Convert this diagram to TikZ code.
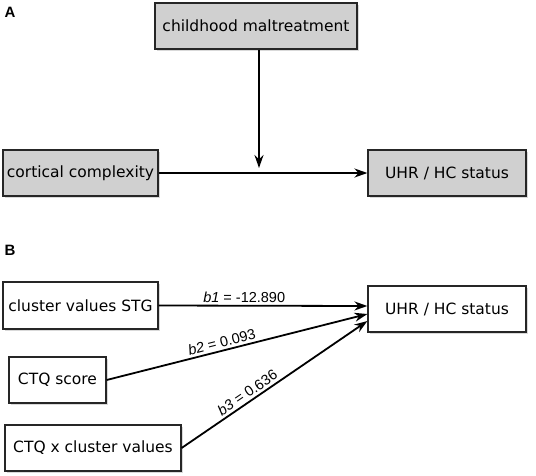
\documentclass[tikz,border=0pt]{standalone}
\usepackage{fontspec}
\setmainfont{DejaVu Sans}
\newfontfamily\labfont{Liberation Sans}
\usetikzlibrary{arrows.meta,shadows,calc}
\definecolor{boxgray}{RGB}{208,208,208}
\begin{document}
\begin{tikzpicture}[x = 1pt, y = -1pt,
        box/.style = {draw = black!85, line width = 1.2pt, minimum height = 46pt, inner sep = 0pt, font = \fontsize{15.5}{18}\selectfont, drop shadow = {shadow xshift = 1.5pt, shadow yshift = -2pt, opacity = 0.3}},
        greybox/.style = {box, fill = boxgray},
        whitebox/.style = {box, fill = white},
        arrow/.style = {-{Stealth[length = 13pt, width = 9pt]}, line width = 1.8pt},
        coef/.style = {font = \labfont\fontsize{14.5}{16}\selectfont, sloped, above, inner sep = 2.5pt},
        panel/.style = {font = \labfont\bfseries\fontsize{15}{17}\selectfont, inner sep = 0pt}]
        \useasboundingbox (0, 0) rectangle (536, 475);
        % panel A
        \node [panel] (labA) at (10, 12) {A};
        \node [greybox, minimum width = 202pt] (maltreat) at (256, 26) {childhood maltreatment};
        \node [greybox, minimum width = 155pt] (cortical) at (80.5, 173) {cortical complexity};
        \node [greybox, minimum width = 158pt] (uhrA) at (447, 173) {UHR / HC status};
        \coordinate (mid) at (259, 168);
        \draw [arrow] (cortical.east) -- (uhrA.west);
        \draw [arrow] (maltreat.south -| mid) -- (mid);

        % panel B
        \node [panel] (labB) at (10, 250) {B};
        \node [whitebox, minimum width = 155pt, minimum height = 47pt] (stg) at (80.5, 305.5) {cluster values STG};
        \node [whitebox, minimum width = 158pt] (uhrB) at (447, 309) {UHR / HC status};
        \node [whitebox, minimum width = 97pt] (ctq) at (57.5, 380) {CTQ score};
        \node [whitebox, minimum width = 176pt] (inter) at (93, 448) {CTQ x cluster values};
        \coordinate (in1) at ($(uhrB.west) + (0, -3)$);
        \coordinate (in2) at ($(uhrB.west) + (0, 5)$);
        \coordinate (in3) at ($(uhrB.west) + (0, 12)$);
        \draw [arrow] (stg.east) -- node [coef, pos = 0.41] {\textit{b1} = -12.890} (in1);
        \draw [arrow] (ctq.east) -- node [coef, pos = 0.45] {\textit{b2} = 0.093} (in2);
        \draw [arrow] (inter.east) -- node [coef, pos = 0.38] {\textit{b3} = 0.636} (in3);
    \end{tikzpicture}
\end{document}
